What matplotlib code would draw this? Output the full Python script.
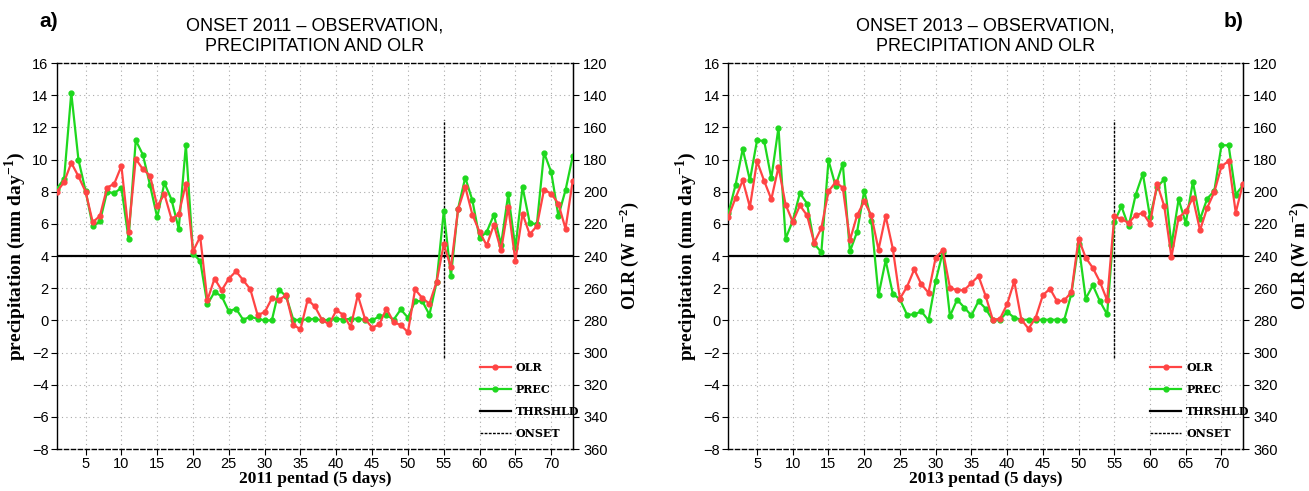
import numpy as np
import matplotlib
matplotlib.use('Agg')
import matplotlib.pyplot as plt
from matplotlib.lines import Line2D

plt.rcParams['font.family'] = ['Liberation Sans Narrow', 'Liberation Sans', 'DejaVu Sans']

pentad = np.arange(1, 74)

# 2011
prec_2011 = [8.2, 8.8, 14.15, 10.0, 8.05, 5.85, 6.15, 8.0, 7.9, 8.25,
             5.06, 11.2, 10.3, 8.4, 6.4, 8.55, 7.5, 5.7, 10.9, 4.15,
             3.7, 1.0, 1.76, 1.5, 0.56, 0.73, 0.04, 0.23, 0.1, 0.0,
             0.0, 1.9, 1.5, 0.04, 0.02, 0.06, 0.1, 0.0, 0.04, 0.1,
             0.05, 0.1, 0.1, 0.04, 0.0, 0.25, 0.35, 0.04, 0.68, 0.17,
             1.2, 1.2, 0.35, 2.39, 6.78, 2.74, 6.95, 8.88, 7.46, 5.12,
             5.5, 6.57, 4.7, 7.84, 4.5, 8.3, 6.07, 5.97, 10.43, 9.23,
             6.5, 8.1, 10.2]
olr_2011 = [200, 194, 182, 190.4, 200, 219, 215, 197.5, 195, 184,
            225, 179.6, 186, 190, 209, 201.5, 217, 214, 195, 237,
            228, 267.5, 254, 261.3, 254, 249.5, 255, 260.7, 276.5, 275,
            266.3, 267.2, 264.4, 282.7, 285.6, 267.1, 271.3, 279.6, 282.5, 273.8,
            276.5, 284.2, 264.4, 279, 284.5, 282.5, 272.7, 281, 283, 287.3,
            260.7, 266.1, 269.6, 256.1, 232.7, 247, 211, 197, 214.3, 225,
            233.4, 220.5, 236.5, 209.5, 243, 213.7, 226.5, 221.3, 198.7, 201.2,
            207.4, 223, 193.3]

# 2013
prec_2013 = [6.68, 8.44, 10.66, 8.71, 11.2, 11.16, 8.83, 11.99, 5.08, 6.2,
             7.92, 7.26, 4.77, 4.23, 9.95, 8.36, 9.75, 4.29, 5.5, 8.05,
             6.2, 1.56, 3.73, 1.66, 1.3, 0.35, 0.37, 0.56, 0.0, 2.45,
             4.25, 0.27, 1.29, 0.8, 0.31, 1.2, 0.73, 0.0, 0.04, 0.52,
             0.17, 0.04, 0.04, 0.04, 0.04, 0.04, 0.04, 0.04, 1.66, 4.73,
             1.35, 2.18, 1.18, 0.37, 6.12, 7.09, 5.85, 7.82, 9.12, 6.43,
             8.3, 8.77, 4.66, 7.53, 6.05, 8.61, 6.28, 7.57, 8.05, 10.89,
             10.89, 7.82, 8.4]
olr_2013 = [215.7, 203.7, 192.9, 209.5, 181, 193.3, 204.7, 184.6, 208, 218.8,
            208.5, 214.7, 231.7, 222.6, 199.8, 194, 197.5, 230.2, 214.7, 206,
            214.7, 236, 215.1, 235.4, 266.5, 259, 248.3, 257.6, 262.8, 241,
            236.4, 259.7, 261.3, 261.2, 256.8, 252.5, 264.9, 279.6, 279, 270,
            255.7, 279.6, 285.2, 278.3, 264.4, 260.3, 268.2, 267.6, 262.4, 229.2,
            241, 247.4, 256.1, 267.6, 215.3, 216.8, 219.5, 214.5, 213.2, 219.9,
            195, 209.1, 240.6, 216.1, 212.2, 203.9, 224, 210, 200.2, 184.2,
            180.9, 213, 195]

threshold = 4
onset = 55
onset_range = (-2.35, 12.45)

red = '#ff4444'
green = '#1ed81e'
serif = ['Liberation Serif', 'DejaVu Serif']
legend_font = ['DejaVu Serif']


def panel(ax, prec, olr, year, letter, letter_x):
    ax.set_xlim(1, 73)
    ax.set_ylim(-8, 16)
    ax.set_xticks(np.arange(5, 71, 5))
    ax.set_yticks(np.arange(-8, 17, 2))
    ax.set_yticklabels([str(v).replace('-', '\u2212') for v in range(-8, 17, 2)])
    ax.grid(True, ls=(0, (1, 3)), color='#aaaaaa', lw=0.8)
    ax.tick_params(direction='out', length=4, labelsize=10.5)
    ax.tick_params(axis='x', pad=2)
    ax.tick_params(axis='y', pad=2)
    ax.spines['top'].set_linestyle((0, (3, 2)))
    ax.spines['bottom'].set_linestyle((0, (3, 2)))
    for s in ax.spines.values():
        s.set_linewidth(1.0)

    ax.axhline(threshold, color='black', lw=1.6, zorder=3)
    ax.vlines(onset, onset_range[0], onset_range[1], color='black',
              lw=1.0, ls=(0, (2, 1)), zorder=3)
    ax.plot(pentad, prec, color=green, lw=1.6, marker='o', ms=3.5, zorder=4)

    ax2 = ax.twinx()
    ax2.set_ylim(360, 120)
    ax2.set_yticks(np.arange(120, 361, 20))
    ax2.tick_params(direction='out', length=4, labelsize=10.5)
    for k in ['top', 'bottom', 'left']:
        ax2.spines[k].set_visible(False)
    ax2.plot(pentad, olr, color=red, lw=1.6, marker='o', ms=3.5, zorder=5)

    ax.set_ylabel('precipitation (mm day$^{\\mathregular{-1}}$)', family=serif,
                  fontweight='bold', fontsize=14, labelpad=3)
    ax2.set_ylabel('OLR (W m$^{\\mathregular{-2}}$)', family=serif,
                   fontweight='bold', fontsize=13, labelpad=7)
    ax.set_xlabel(f'{year} pentad (5 days)', family=serif, fontweight='bold',
                  fontsize=12.5, labelpad=0)
    ax.set_title(f'ONSET {year} \u2013 OBSERVATION,\nPRECIPITATION AND OLR',
                 fontsize=13, family=['Liberation Sans', 'DejaVu Sans'],
                 linespacing=1.25, pad=9)
    ax.text(letter_x, 0.945, letter, transform=ax.figure.transFigure,
            fontsize=15, fontweight='bold', family=['Liberation Sans', 'DejaVu Sans'])

    handles = [Line2D([], [], color=red, lw=1.6, marker='o', ms=3.5),
               Line2D([], [], color=green, lw=1.6, marker='o', ms=3.5),
               Line2D([], [], color='black', lw=1.6),
               Line2D([], [], color='black', lw=1.0, ls=(0, (2, 1)))]
    ax2.legend(handles, ['OLR', 'PREC', 'THRSHLD', 'ONSET'],
               loc='lower left', bbox_to_anchor=(0.80, 0.0),
               frameon=False, handlelength=2.8, handletextpad=0.45,
               labelspacing=1.0,
               prop={'family': legend_font, 'weight': 'bold', 'size': 8})
    return ax2


fig = plt.figure(figsize=(13.09, 4.91), dpi=100)
ax_a = fig.add_axes([0.0435, 0.0855, 0.394, 0.786])
ax_b = fig.add_axes([0.5565, 0.0855, 0.393, 0.786])
panel(ax_a, prec_2011, olr_2011, 2011, 'a)', 0.03)
panel(ax_b, prec_2013, olr_2013, 2013, 'b)', 0.935)

plt.savefig('out.png', dpi=100)
